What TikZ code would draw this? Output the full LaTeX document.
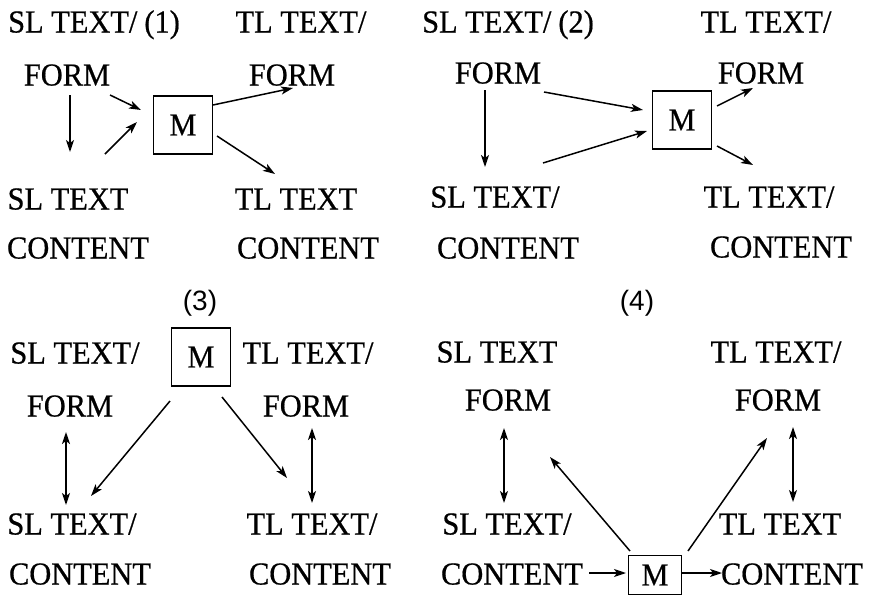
\documentclass[tikz,border=0pt]{standalone}
\usepackage{fontspec}
\setmainfont{Liberation Serif}[FakeStretch=0.95,FakeBold=0.6]
\newfontfamily\labsans{Liberation Sans}
\usetikzlibrary{arrows.meta}
\tikzset{
  txt/.style={inner sep=0pt, text height=21pt, text depth=0pt, font=\fontsize{32}{38}\selectfont},
  lab/.style={inner sep=0pt, text height=21pt, text depth=0pt, font=\labsans\fontsize{28}{32}\selectfont},
  mbox/.style={draw, line width=1.3pt, inner sep=0pt, minimum width=59pt, minimum height=58pt, font=\fontsize{32}{38}\selectfont},
  arr/.style={line width=1.5pt, -{Stealth[length=12pt,width=8pt,inset=3pt]}},
  darr/.style={line width=1.5pt, {Stealth[length=12pt,width=8pt,inset=3pt]}-{Stealth[length=12pt,width=8pt,inset=3pt]}}
}
\begin{document}
\begin{tikzpicture}[x=1pt,y=-1pt]
\useasboundingbox (0,0) rectangle (871,597);
% ---------- Panel 1 ----------
\node[txt, anchor=west] (p1sl) at (8,22) {SL TEXT/\kern7pt(1)};
\node[txt] (p1tl) at (301,22) {TL TEXT/};
\node[txt] (p1f1) at (67,75) {FORM};
\node[txt] (p1f2) at (292,75) {FORM};
\node[mbox] (m1) at (183,125) {M};
\node[txt] (p1s) at (68,199) {SL TEXT};
\node[txt] (p1t) at (296,199) {TL TEXT};
\node[txt] (p1c1) at (78,248) {CONTENT};
\node[txt] (p1c2) at (308,248) {CONTENT};
\draw[arr] ([shift={(3,20)}]p1f1.center) -- ([shift={(2,-47)}]p1s.center);
\draw[arr] ([shift={(43,20)}]p1f1.center) -- ([shift={(-42,-15)}]m1.center);
\draw[arr] ([shift={(37,-45)}]p1s.center) -- ([shift={(-46,-3)}]m1.center);
\draw[arr] ([shift={(30,-20)}]m1.center) -- ([shift={(1,13)}]p1f2.center);
\draw[arr] ([shift={(34,11)}]m1.center) -- ([shift={(-21,-25)}]p1t.center);
% ---------- Panel 2 ----------
\node[txt, anchor=west] (p2sl) at (422,22) {SL TEXT/\kern7pt(2)};
\node[txt] (p2tl) at (766,22) {TL TEXT/};
\node[txt] (p2f1) at (498,73) {FORM};
\node[txt] (p2f2) at (761,73) {FORM};
\node[mbox] (m2) at (682,120) {M};
\node[txt] (p2s) at (495,197) {SL TEXT/};
\node[txt] (p2t) at (769,197) {TL TEXT/};
\node[txt] (p2c1) at (508,248) {CONTENT};
\node[txt] (p2c2) at (781,247) {CONTENT};
\draw[arr] ([shift={(-13,17)}]p2f1.center) -- ([shift={(-10,-30)}]p2s.center);
\draw[arr] ([shift={(46,19)}]p2f1.center) -- ([shift={(-39,-10)}]m2.center);
\draw[arr] ([shift={(48,-34)}]p2s.center) -- ([shift={(-35,11)}]m2.center);
\draw[arr] ([shift={(35,-14)}]m2.center) -- ([shift={(-8,15)}]p2f2.center);
\draw[arr] ([shift={(35,26)}]m2.center) -- ([shift={(-16,-32)}]p2t.center);
% ---------- Panel 3 ----------
\node[lab] (p3lab) at (200,300) {(3)};
\node[mbox] (m3) at (201,357) {M};
\node[txt] (p3sl) at (75,353) {SL TEXT/};
\node[txt] (p3tl) at (308,353) {TL TEXT/};
\node[txt] (p3f1) at (70,406) {FORM};
\node[txt] (p3f2) at (306,406) {FORM};
\node[txt] (p3s) at (72,524) {SL TEXT/};
\node[txt] (p3t) at (312,524) {TL TEXT/};
\node[txt] (p3c1) at (80,574) {CONTENT};
\node[txt] (p3c2) at (320,574) {CONTENT};
\draw[darr] ([shift={(-4,26)}]p3f1.center) -- ([shift={(-6,-19)}]p3s.center);
\draw[darr] ([shift={(6,22)}]p3f2.center) -- ([shift={(0,-21)}]p3t.center);
\draw[arr] ([shift={(-31,44)}]m3.center) -- ([shift={(19,-28)}]p3s.center);
\draw[arr] ([shift={(21,40)}]m3.center) -- ([shift={(-25,-46)}]p3t.center);
% ---------- Panel 4 ----------
\node[lab] (p4lab) at (637,300) {(4)};
\node[txt] (p4sl) at (497,352) {SL TEXT};
\node[txt] (p4tl) at (776,352) {TL TEXT/};
\node[txt] (p4f1) at (508,400) {FORM};
\node[txt] (p4f2) at (778,400) {FORM};
\node[txt] (p4s) at (507,524) {SL TEXT/};
\node[txt] (p4t) at (780,524) {TL TEXT};
\node[txt] (p4c1) at (512,574) {CONTENT};
\node[mbox, minimum width=53pt, minimum height=39pt] (m4) at (655,575) {M};
\node[txt] (p4c2) at (792,574) {CONTENT};
\draw[darr] ([shift={(-4,28)}]p4f1.center) -- ([shift={(-3,-21)}]p4s.center);
\draw[darr] ([shift={(15,27)}]p4f2.center) -- ([shift={(13,-22)}]p4t.center);
\draw[arr] ([shift={(77,-1)}]p4c1.center) -- ([shift={(-29,-2)}]m4.center);
\draw[arr] ([shift={(27,-2)}]m4.center) -- ([shift={(-70,-1)}]p4c2.center);
\draw[arr] ([shift={(-25,-24)}]m4.center) -- ([shift={(42,57)}]p4f1.center);
\draw[arr] ([shift={(33,-24)}]m4.center) -- ([shift={(-11,38)}]p4f2.center);
\end{tikzpicture}
\end{document}
